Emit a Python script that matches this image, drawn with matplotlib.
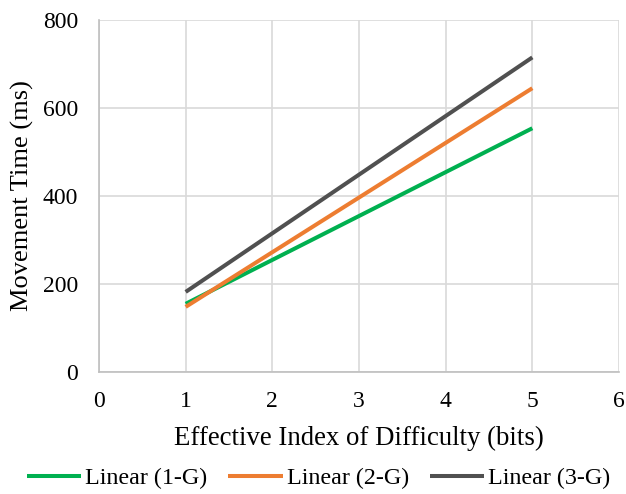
import matplotlib.pyplot as plt

plt.rcParams['font.family'] = ['Liberation Serif', 'DejaVu Serif']

# trendline endpoints
x_ends = [1, 5]
series_names = ['Linear (1-G)', 'Linear (2-G)', 'Linear (3-G)']
series_values = [
    [155, 554],
    [148, 645],
    [182, 715],
]
series_colors = ['#00b050', '#ed7d31', '#505050']

x_ticks = [0, 1, 2, 3, 4, 5, 6]
y_ticks = [0, 200, 400, 600, 800]

fig = plt.figure(figsize=(6.26, 4.94), dpi=100)
ax = fig.add_axes([99 / 626, 1 - 372 / 494, 520 / 626, 352 / 494])

for name, vals, col in zip(series_names, series_values, series_colors):
    ax.plot(x_ends, vals, color=col, lw=2.9, label=name, solid_capstyle='butt')

ax.set_xlim(0, 6)
ax.set_ylim(0, 800)
ax.set_xticks(x_ticks)
ax.set_yticks(y_ticks)
ax.grid(True, color='#d9d9d9', lw=1.2)
ax.set_axisbelow(True)
for side in ['top', 'right']:
    ax.spines[side].set_visible(False)
for side in ['left', 'bottom']:
    ax.spines[side].set_color('#bfbfbf')
    ax.spines[side].set_linewidth(1.2)
ax.tick_params(axis='y', length=0, labelsize=17, pad=15)
ax.tick_params(axis='x', length=0, labelsize=17, pad=14)

ax.set_xlabel('Effective Index of Difficulty (bits)', fontsize=19.3, va='center')
ax.xaxis.set_label_coords(0.5, (372 - 438) / 352)
ax.set_ylabel('Movement Time (ms)', fontsize=19, va='center')
ax.yaxis.set_label_coords((22.5 - 99) / 520, 0.5)

fig.legend(loc='center', bbox_to_anchor=(0.509, 1 - 478 / 494), ncol=3, frameon=False,
           fontsize=17.3, handlelength=2.25, handletextpad=0.17, columnspacing=0.87,
           borderaxespad=0, borderpad=0)

fig.savefig('out.png', dpi=100)
